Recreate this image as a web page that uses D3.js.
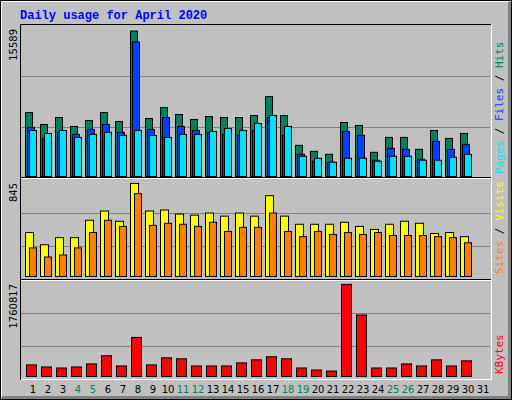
<script src="https://d3js.org/d3.v7.min.js"></script>
<style>body{margin:0;background:#fff}</style>
<svg id="chart"></svg>
<script>
var days = d3.range(1, 32);
var weekends = [4, 5, 11, 12, 18, 19, 25, 26];
var hits  = [6913,5643,6384,5432,6066,6913,5961,15589,6278,7442,6701,6172,6490,6384,6384,6595,8606,6595,3421,2786,2469,5855,5537,2681,4268,4268,2998,5008,4162,4691];
var files = [5326,4162,4797,4585,5114,5643,4797,14425,5114,6384,5432,5008,4797,4585,4479,5008,6384,4479,2469,1728,1622,4903,4479,1834,3104,2998,1940,3844,2998,3527];
var pages = [5008,4691,5008,4268,4585,4797,4479,5008,4479,4268,4585,4585,4903,5220,5008,5749,6595,5432,2257,2046,1622,2046,2046,1728,2257,2257,1834,1834,2151,2469];
var visits = [404,294,358,358,514,597,505,845,597,606,570,560,579,551,579,551,735,551,478,478,478,496,459,432,478,505,487,395,404,367];
var sites  = [266,184,202,266,404,514,459,753,468,487,478,459,496,413,450,450,579,413,367,413,386,404,386,404,377,377,377,367,358,312];
var kbytes = [237762,199206,179928,199206,257040,411264,218484,758268,237762,372708,353430,218484,218484,218484,276318,334152,391986,353430,179928,141372,122094,1760817,1182384,179928,179928,257040,218484,334152,218484,314874];

var W = 512, H = 400;
var svg = d3.select("#chart").attr("width", W).attr("height", H);
var font = "'DejaVu Sans Mono', monospace";

// background and frame
svg.append("rect").attr("x", 0.5).attr("y", 0.5).attr("width", W - 1).attr("height", H - 1)
  .attr("fill", "#C0C0C0").attr("stroke", "black");
svg.append("path").attr("d", "M2,397.5H509.5V2").attr("stroke", "#808080").attr("stroke-width", 3).attr("fill", "none");
svg.append("path").attr("d", "M1.5,397V1.5H509").attr("stroke", "white").attr("fill", "none");

svg.append("text").attr("x", 20).attr("y", 19).text("Daily usage for April 2020")
  .attr("font-family", "'Liberation Mono', monospace").attr("font-weight", "bold")
  .attr("font-size", 12).attr("fill", "#0000FF");

var x = d3.scaleBand().domain(days).range([25, 25 + 31 * 15]);

// panel outlines
svg.append("rect").attr("x", 20.5).attr("y", 24.5).attr("width", 471).attr("height", 355)
  .attr("fill", "none").attr("stroke", "white");
svg.append("path").attr("d", "M20.5,380V24.5H491").attr("stroke", "black").attr("fill", "none");
[[177.5, 179.5], [279.5, 281.5]].forEach(function(p) {
  svg.append("line").attr("x1", 21).attr("x2", 491).attr("y1", p[0]).attr("y2", p[0]).attr("stroke", "black");
  svg.append("line").attr("x1", 21).attr("x2", 491).attr("y1", p[0] + 1).attr("y2", p[0] + 1).attr("stroke", "white");
});

function panel(top, bottom, max, grids, series, maxLabel, legend) {
  var y = d3.scaleLinear().domain([0, max]).range([bottom, top + (bottom - top) * 0.03]);
  grids.forEach(function(g) {
    svg.append("line").attr("x1", 21).attr("x2", 490).attr("y1", g + 0.5).attr("y2", g + 0.5)
      .attr("stroke", "#808080");
  });
  series.forEach(function(s) {
    svg.append("g").selectAll("rect").data(s.values).enter().append("rect")
      .attr("x", function(d, i) { return x(i + 1) + s.off + 0.5; })
      .attr("y", function(d) { return y(d) + 0.5; })
      .attr("width", s.w - 1)
      .attr("height", function(d) { return bottom - y(d) - 1; })
      .attr("fill", s.color).attr("stroke", "black");
  });
  svg.append("text").attr("transform", "translate(17," + (top + 3) + ") rotate(-90)")
    .attr("text-anchor", "end").attr("font-family", "'DejaVu Sans', sans-serif")
    .attr("font-size", 10).text(maxLabel);
  var t = svg.append("text").attr("transform", "translate(503," + (bottom - 3) + ") rotate(-90)")
    .attr("font-family", font).attr("font-size", 11);
  legend.forEach(function(l) { t.append("tspan").attr("fill", l[1]).text(l[0]); });
}

panel(26, 177, 15589, [76, 127], [
  {values: hits, off: 0, w: 8, color: "#00805C"},
  {values: files, off: 2, w: 8, color: "#0040FF"},
  {values: pages, off: 4, w: 8, color: "#00E0FF"}
], "15589", [["Pages", "#00E0FF"], [" / ", "#000"], ["Files", "#0040FF"], [" / ", "#000"], ["Hits", "#00805C"]]);

panel(180, 277, 845, [213, 246], [
  {values: visits, off: 0, w: 9, color: "#FFFF00"},
  {values: sites, off: 4, w: 8, color: "#FF8000"}
], "845", [["Sites", "#FF8000"], [" / ", "#000"], ["Visits", "#FFFF00"]]);

panel(281, 377, 1760817, [313, 346], [
  {values: kbytes, off: 1, w: 11, color: "#FF0000"}
], "1760817", [["KBytes", "#FF0000"]]);

// day labels
svg.append("g").selectAll("text").data(days).enter().append("text")
  .attr("x", function(d) { return x(d) + 8; })
  .attr("y", 393).attr("text-anchor", "middle")
  .attr("font-family", "'DejaVu Sans', sans-serif").attr("font-size", 10)
  .attr("fill", function(d) { return weekends.indexOf(d) >= 0 ? "#00805C" : "black"; })
  .text(function(d) { return d; });
</script>
